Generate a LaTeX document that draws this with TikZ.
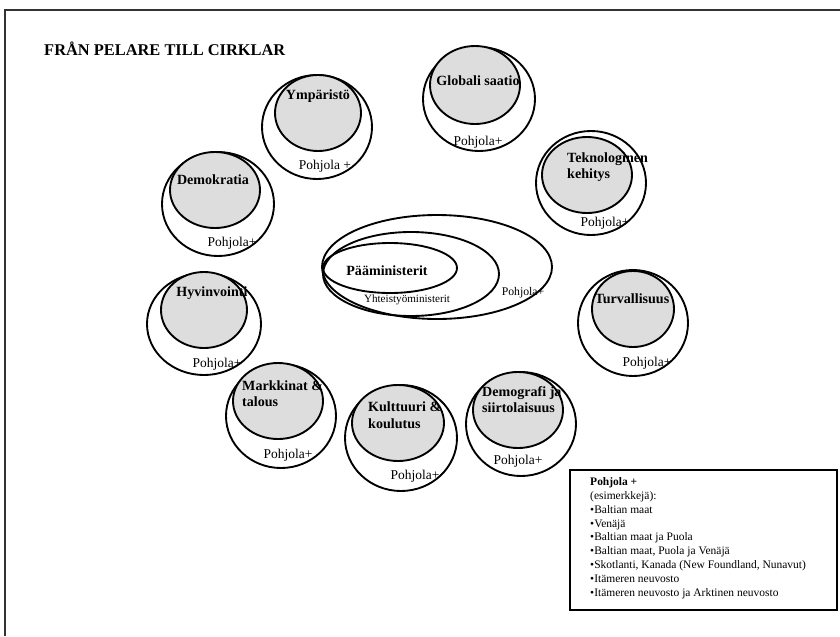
\documentclass[tikz,border=0pt]{standalone}
\usepackage{fontspec}
\setmainfont{Liberation Serif}
\usepackage{xcolor}
\usepackage{tikz}

\definecolor{fillgray}{HTML}{DDDDDD}

\tikzset{
  ring/.style={line width=1.6pt},
  core/.style={line width=1.6pt, fill=fillgray},
  topic/.style={font=\fontsize{12}{13.5}\selectfont\bfseries, align=left, inner sep=0pt},
  pohj/.style={font=\fontsize{11.5}{13}\selectfont, inner sep=0pt},
  small/.style={font=\fontsize{9.5}{11}\selectfont, inner sep=0pt},
}

\begin{document}
\begin{tikzpicture}[x=0.3mm, y=-0.3mm]
    \useasboundingbox (0,0) rectangle (840,636);
    % frame
    \draw[line width=1.2pt, black!80] (5,636) -- (5,10) -- (840,10);
    \node[font=\fontsize{14}{16}\selectfont\bfseries, anchor=west, inner sep=0pt] (title) at (44,49) {FRÅN PELARE TILL CIRKLAR};

    % Ympäristö
    \draw[ring] (317,127) ellipse (55 and 52);
    \draw[core] (318,113) ellipse (43 and 38);
    \node[topic] (ymp) at (318,96) {Ympäristö};
    \node[pohj] (ympP) at (325,166) {Pohjola +};

    % Demokratia
    \draw[ring] (218,204) ellipse (56 and 52);
    \draw[core] (215,190) ellipse (45 and 38);
    \node[topic] (dem) at (213,180) {Demokratia};
    \node[pohj] (demP) at (232,243) {Pohjola+};

    % Hyvinvointi
    \draw[ring] (204,324) ellipse (57 and 51);
    \draw[core] (204,310) ellipse (43 and 38);
    \node[topic] (hyv) at (212,293) {Hyvinvointi};
    \node[pohj] (hyvP) at (217,364) {Pohjola+};

    % Markkinat & talous
    \draw[ring] (281,416) ellipse (55 and 52);
    \draw[core] (278,401) ellipse (45 and 38);
    \node[topic, anchor=west] (mark) at (242,394) {Markkinat \&\\talous};
    \node[pohj] (markP) at (288,455) {Pohjola+};

    % Kulttuuri & koulutus
    \draw[ring] (401,438) ellipse (56 and 53);
    \draw[core] (398,423) ellipse (46 and 38);
    \node[topic, anchor=west, font=\fontsize{12}{15}\selectfont\bfseries] (kult) at (368,415) {Kulttuuri \&\\koulutus};
    \node[pohj] (kultP) at (415,476) {Pohjola+};

    % Demografia ja siirtolaisuus
    \draw[ring] (521,424) ellipse (55 and 52);
    \draw[core] (518,410) ellipse (45 and 38);
    \node[topic, anchor=west] (demo) at (482,400) {Demografi ja\\siirtolaisuus};
    \node[pohj] (demoP) at (518,461) {Pohjola+};

    % Turvallisuus
    \draw[ring] (633,323) ellipse (55 and 53);
    \draw[core] (633,309) ellipse (41 and 38);
    \node[topic] (turv) at (632,299) {Turvallisuus};
    \node[pohj] (turvP) at (647,363) {Pohjola+};

    % Teknologinen kehitys
    \draw[ring] (591,183) ellipse (55 and 52);
    \draw[core] (587,175) ellipse (45 and 38);
    \node[topic, anchor=west] (tekn) at (567,167) {Teknologinen\\kehitys};
    \node[pohj] (teknP) at (605,223) {Pohjola+};

    % Globalisaatio
    \draw[ring] (479,99) ellipse (56 and 52);
    \draw[core] (475,85) ellipse (45 and 39);
    \node[topic] (glob) at (478,81) {Globali saatio};
    \node[pohj] (globP) at (478,142) {Pohjola+};

    % centre
    \draw[ring] (437,267) ellipse (115 and 52);
    \draw[ring] (411,274) ellipse (88 and 42);
    \draw[ring] (390,268) ellipse (67 and 25);
    \node[topic] (pm) at (387,271) {Pääministerit};
    \node[small] (ym) at (407,300) {Yhteistyöministerit};
    \node[small, font=\fontsize{10}{11}\selectfont] (cP) at (523,293) {Pohjola+};

    % legend
    \draw[line width=1.2pt] (570,470) rectangle (837,610);
    \node[small, anchor=north west, align=left, font=\fontsize{9.8}{11.9}\selectfont] (leg) at (590,477)
      {\textbf{Pohjola +}\\(esimerkkejä):\\•Baltian maat\\•Venäjä\\•Baltian maat ja Puola\\•Baltian maat, Puola ja Venäjä\\•Skotlanti, Kanada (New Foundland, Nunavut)\\•Itämeren neuvosto\\•Itämeren neuvosto ja Arktinen neuvosto};
\end{tikzpicture}
\end{document}
